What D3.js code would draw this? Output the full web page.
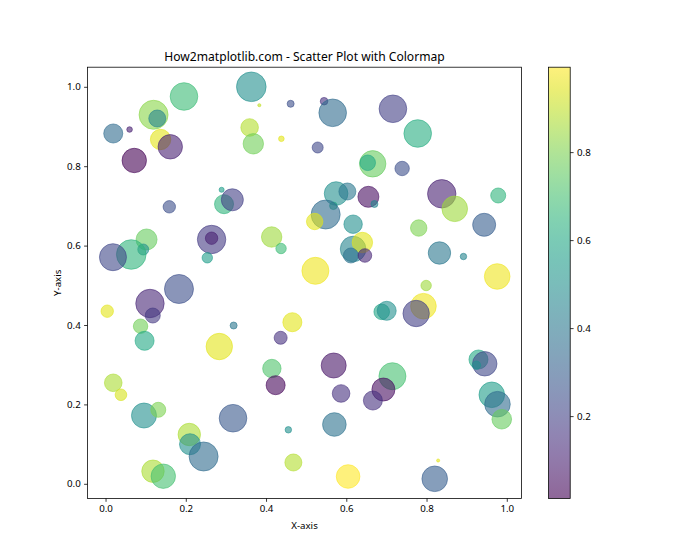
<!DOCTYPE html>
<html><head><meta charset="utf-8">
<script src="https://cdn.jsdelivr.net/npm/d3@7"></script>
<style>
body{margin:0;background:#fff}
text{font-family:"Noto Sans","Open Sans",sans-serif;fill:#000}
</style>
</head><body>
<svg id="chart" width="700" height="560"></svg>
<script>
const xValues = [0.1955,0.1197,0.1289,0.0192,0.0599,0.1372,0.1613,0.0716,0.2893,0.2953,
0.3160,0.1589,0.2643,0.2643,0.1022,0.0940,0.0641,0.0185,0.2536,0.1830,
0.3633,0.3833,0.4613,0.5446,0.5661,0.3591,0.3683,0.4382,0.5287,0.6658,
0.6534,0.7392,0.5746,0.6027,0.5678,0.6551,0.6701,0.5486,0.5212,0.6170,
0.4140,0.4374,0.6170,0.6401,0.6115,0.6464,0.5230,0.7162,0.7780,0.8379,
0.8703,0.9786,0.9436,0.7805,0.8322,0.8920,0.9761,0.7990,0.0042,0.1107,
0.1177,0.0873,0.0973,0.2835,0.3192,0.0192,0.0384,0.0958,0.1314,0.3177,
0.2087,0.2105,0.2444,0.1182,0.1439,0.4656,0.4364,0.4145,0.4239,0.5686,
0.5870,0.5703,0.4556,0.4681,0.6045,0.6883,0.7007,0.7923,0.7741,0.9294,
0.9451,0.9244,0.7150,0.6925,0.6663,0.9626,0.9768,0.9875,0.8289,0.8204];
const yValues = [0.9756,0.9295,0.9202,0.8824,0.8924,0.8673,0.8489,0.8144,0.7406,0.7043,
0.7154,0.6977,0.6154,0.6186,0.6154,0.5902,0.5776,0.5708,0.5693,0.4907,
1.0000,0.9537,0.9572,0.9637,0.9345,0.8975,0.8564,0.8690,0.8471,0.8060,
0.8086,0.7942,0.7312,0.7363,0.7003,0.7229,0.7048,0.6783,0.6607,0.6539,
0.6217,0.5927,0.5914,0.6078,0.5751,0.5751,0.5365,0.9446,0.8824,0.7305,
0.6927,0.7262,0.6524,0.6443,0.5814,0.5725,0.5222,0.4995,0.4348,0.4542,
0.4239,0.3970,0.3602,0.3458,0.3987,0.2544,0.2242,0.1720,0.1864,0.1652,
0.1242,0.0997,0.0688,0.0317,0.0191,0.4070,0.3678,0.2904,0.2484,0.2980,
0.2275,0.1494,0.1360,0.0537,0.0184,0.4332,0.4358,0.4474,0.4290,0.3131,
0.3023,0.2987,0.2710,0.2375,0.2098,0.2242,0.2005,0.1627,0.0587,0.0126];
const colorValues = [0.68,0.82,0.45,0.35,0.10,0.95,0.10,0.013,0.55,0.65,
0.20,0.25,0.18,0.10,0.76,0.50,0.65,0.22,0.55,0.25,
0.50,0.90,0.25,0.15,0.35,0.88,0.78,0.95,0.22,0.76,
0.60,0.25,0.50,0.40,0.60,0.05,0.45,0.35,0.95,0.50,
0.85,0.68,0.45,0.95,0.38,0.12,0.97,0.20,0.62,0.10,
0.85,0.65,0.30,0.80,0.40,0.45,0.97,0.85,0.95,0.12,
0.17,0.78,0.60,0.95,0.40,0.87,0.93,0.50,0.80,0.28,
0.87,0.50,0.35,0.87,0.70,0.95,0.15,0.72,0.03,0.07,
0.15,0.38,0.50,0.88,0.993,0.58,0.50,0.97,0.20,0.60,
0.22,0.50,0.70,0.05,0.15,0.55,0.35,0.76,0.95,0.30];
const sizeValues = [807,891,306,383,33,441,631,631,27,383,
513,163,854,163,467,128,928,772,115,891,
928,10,52,61,807,328,441,33,128,738,
258,220,590,306,61,467,52,891,285,359,
441,115,694,441,239,196,772,807,807,854,
694,239,561,285,532,44,694,115,163,854,
239,220,383,738,52,328,143,662,239,807,
532,467,891,532,631,383,179,359,383,662,
328,590,44,306,590,258,383,694,738,383,
631,75,772,561,383,694,694,407,10,694];
const xTicks = [0.0,0.2,0.4,0.6,0.8,1.0];
const yTicks = [0.0,0.2,0.4,0.6,0.8,1.0];
const cbarTicks = [0.2,0.4,0.6,0.8];
const titleText = "How2matplotlib.com - Scatter Plot with Colormap";
const xLabel = "X-axis";
const yLabel = "Y-axis";

const dpi = 70, pt = dpi/72;
const W = 700, H = 560;
const L = 87.5, R = 521.5, T = 67.2, B = 498.4;
const cbL = 548.6, cbR = 570.2;
const alpha = 0.6;

const svg = d3.select("#chart");
const pts = xValues.map((x,i)=>({x, y:yValues[i], c:colorValues[i], s:sizeValues[i]}));

function padded(ext){const r=ext[1]-ext[0];return [ext[0]-0.05*r, ext[1]+0.05*r];}
const x = d3.scaleLinear().domain(padded(d3.extent(xValues))).range([L,R]);
const y = d3.scaleLinear().domain(padded(d3.extent(yValues))).range([B,T]);
const cExt = d3.extent(colorValues);
const cNorm = d3.scaleLinear().domain(cExt).range([0,1]);
const color = v => d3.interpolateViridis(cNorm(v));

const fs = 10*pt;
const tickLen = 3.5*pt, tickPad = 3.5*pt;

// points
const gp = svg.append("g");
gp.selectAll("circle").data(pts).join("circle")
  .attr("cx", d=>x(d.x)).attr("cy", d=>y(d.y))
  .attr("r", d=>Math.sqrt(d.s)/2*pt)
  .attr("fill", d=>color(d.c)).attr("fill-opacity", alpha)
  .attr("stroke", d=>color(d.c)).attr("stroke-opacity", alpha)
  .attr("stroke-width", 1*pt);

// frame
svg.append("rect").attr("x",L).attr("y",T).attr("width",R-L).attr("height",B-T)
  .attr("fill","none").attr("stroke","#000").attr("stroke-width",0.8*pt);

function styleAxis(g){
  g.select(".domain").remove();
  g.selectAll(".tick line").attr("stroke","#000").attr("stroke-width",0.8*pt);
  g.selectAll(".tick text").attr("font-size",fs).attr("fill","#000")
   .style("font-family",'"Noto Sans","Open Sans",sans-serif');
}
const fmt = d3.format(".1f");
svg.append("g").attr("transform",`translate(0,${B})`)
  .call(d3.axisBottom(x).tickValues(xTicks).tickFormat(fmt).tickSize(tickLen).tickPadding(tickPad))
  .call(styleAxis);
svg.append("g").attr("transform",`translate(${L},0)`)
  .call(d3.axisLeft(y).tickValues(yTicks).tickFormat(fmt).tickSize(tickLen).tickPadding(tickPad))
  .call(styleAxis);

// title and labels
svg.append("text").attr("x",(L+R)/2).attr("y",T-6*pt).attr("text-anchor","middle")
  .attr("font-size",12.1).text(titleText);
svg.append("text").attr("x",(L+R)/2).attr("y",528.5).attr("text-anchor","middle")
  .attr("font-size",fs).text(xLabel);
svg.append("text").attr("transform",`translate(61,${(T+B)/2}) rotate(-90)`).attr("text-anchor","middle")
  .attr("font-size",fs).text(yLabel);

// colorbar
const cy = d3.scaleLinear().domain(cExt).range([B,T]);
const defs = svg.append("defs");
const grad = defs.append("linearGradient").attr("id","cbgrad")
  .attr("x1","0").attr("y1","1").attr("x2","0").attr("y2","0");
d3.range(0,1.0001,0.05).forEach(t=>{
  grad.append("stop").attr("offset",t).attr("stop-color",d3.interpolateViridis(t)).attr("stop-opacity",alpha);
});
svg.append("rect").attr("x",cbL).attr("y",T).attr("width",cbR-cbL).attr("height",B-T)
  .attr("fill","url(#cbgrad)").attr("stroke","#000").attr("stroke-width",0.8*pt);
svg.append("g").attr("transform",`translate(${cbR},0)`)
  .call(d3.axisRight(cy).tickValues(cbarTicks).tickFormat(fmt).tickSize(tickLen).tickPadding(tickPad))
  .call(styleAxis);
</script>
</body></html>
